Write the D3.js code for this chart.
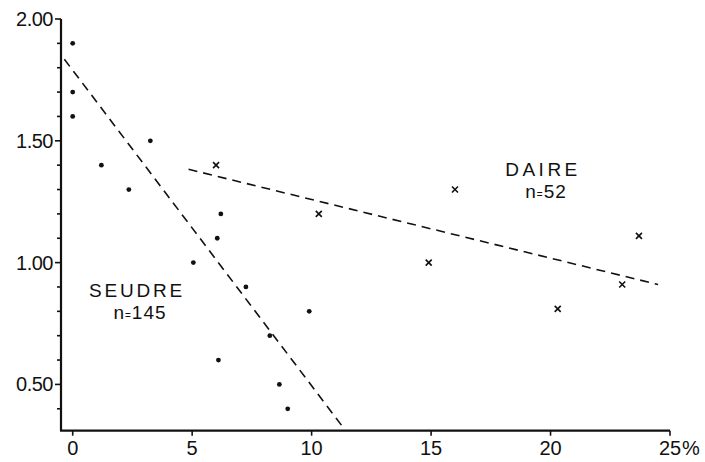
<!DOCTYPE html>
<html>
<head>
<meta charset="utf-8">
<script src="https://cdn.jsdelivr.net/npm/d3@7"></script>
<style>
  html, body { margin: 0; padding: 0; background: #fff; }
  svg text { font-family: "Liberation Sans", Arial, sans-serif; fill: #111; }
</style>
</head>
<body>
<svg id="chart" width="705" height="462"></svg>
<script>
// Seudre samples (dots): percentage on x, index on y
const seudreX = [0, 0, 0, 1.2, 2.35, 3.25, 5.05, 6.05, 6.2, 6.1, 7.25, 8.25, 8.65, 9.0, 9.9];
const seudreY = [1.90, 1.70, 1.60, 1.40, 1.30, 1.50, 1.00, 1.10, 1.20, 0.60, 0.90, 0.70, 0.50, 0.40, 0.80];

// Daire samples (crosses)
const daireX = [6.0, 10.3, 16.0, 14.9, 23.7, 23.0, 20.3];
const daireY = [1.40, 1.20, 1.30, 1.00, 1.11, 0.91, 0.81];

// Fitted trend lines, as [x, y] end points
const seudreFit = [[-0.35, 1.835], [11.3, 0.326]];
const daireFit = [[4.85, 1.383], [24.5, 0.910]];

// Axis ticks
const xTicks = [0, 5, 10, 15, 20, 25];
const yMajorTicks = [0.5, 1.0, 1.5, 2.0];
const yMinorTicks = [0.4, 0.6, 0.7, 0.8, 0.9, 1.1, 1.2, 1.3, 1.4, 1.6, 1.7, 1.8, 1.9];

const svg = d3.select("#chart");

const x = d3.scaleLinear().domain([0, 25]).range([72.7, 670]);
const y = d3.scaleLinear().domain([0.31, 2.0]).range([430.7, 19]);

const xLeft = x.invert(61);

// Axis lines
svg.append("line")
  .attr("x1", x(xLeft)).attr("x2", x(xLeft))
  .attr("y1", y(2.0)).attr("y2", y(0.31))
  .attr("stroke", "#111").attr("stroke-width", 2.2);
svg.append("line")
  .attr("x1", x(xLeft) - 1).attr("x2", x(25))
  .attr("y1", y(0.31)).attr("y2", y(0.31))
  .attr("stroke", "#111").attr("stroke-width", 2.2);

// x ticks and labels
const xAxisG = svg.append("g").attr("transform", `translate(0,${y(0.31)})`);
xAxisG.selectAll("line.tick").data(xTicks).join("line")
  .attr("class", "tick")
  .attr("x1", d => x(d)).attr("x2", d => x(d))
  .attr("y1", 0).attr("y2", 5)
  .attr("stroke", "#111").attr("stroke-width", 1.6);
xAxisG.selectAll("text.tl").data(xTicks).join("text")
  .attr("class", "tl")
  .attr("x", d => x(d)).attr("y", 24.5)
  .attr("text-anchor", "middle")
  .attr("font-size", 20)
  .text(d => d3.format("d")(d));
xAxisG.append("text")
  .attr("x", x(25) + 12).attr("y", 24.5)
  .attr("font-size", 20)
  .text("%");

// y ticks and labels
const yAxisG = svg.append("g").attr("transform", `translate(${x(xLeft)},0)`);
yAxisG.selectAll("line.major").data(yMajorTicks).join("line")
  .attr("class", "major")
  .attr("x1", -6).attr("x2", 0)
  .attr("y1", d => y(d)).attr("y2", d => y(d))
  .attr("stroke", "#111").attr("stroke-width", 1.6);
yAxisG.selectAll("line.minor").data(yMinorTicks).join("line")
  .attr("class", "minor")
  .attr("x1", -4).attr("x2", 0)
  .attr("y1", d => y(d)).attr("y2", d => y(d))
  .attr("stroke", "#111").attr("stroke-width", 1.6);
yAxisG.selectAll("text").data(yMajorTicks).join("text")
  .attr("x", -8).attr("y", d => y(d) + 7)
  .attr("text-anchor", "end")
  .attr("font-size", 20)
  .attr("letter-spacing", -0.5)
  .text(d => d3.format(".2f")(d));

// Trend lines
const line = d3.line().x(d => x(d[0])).y(d => y(d[1]));
[seudreFit, daireFit].forEach(pts => {
  svg.append("path")
    .attr("d", line(pts))
    .attr("fill", "none")
    .attr("stroke", "#111")
    .attr("stroke-width", 1.6)
    .attr("stroke-dasharray", "9,6");
});

// Seudre dots
svg.append("g").selectAll("circle")
  .data(seudreX.map((v, i) => [v, seudreY[i]]))
  .join("circle")
  .attr("cx", d => x(d[0])).attr("cy", d => y(d[1]))
  .attr("r", 2.4).attr("fill", "#111");

// Daire crosses
const cs = 3;
svg.append("g").selectAll("path")
  .data(daireX.map((v, i) => [v, daireY[i]]))
  .join("path")
  .attr("d", d => {
    const cx = x(d[0]), cy = y(d[1]);
    return `M${cx - cs},${cy - cs}L${cx + cs},${cy + cs}M${cx - cs},${cy + cs}L${cx + cs},${cy - cs}`;
  })
  .attr("stroke", "#111").attr("stroke-width", 1.6).attr("fill", "none");

// Group labels
function groupLabel(cx, by, name, nText, spacing) {
  svg.append("text")
    .attr("x", cx).attr("y", by)
    .attr("text-anchor", "middle")
    .attr("font-size", 19)
    .attr("letter-spacing", spacing)
    .text(name);
  const t = svg.append("text")
    .attr("x", cx + 3).attr("y", by + 22)
    .attr("text-anchor", "middle")
    .attr("font-size", 19)
    .attr("letter-spacing", 1);
  t.append("tspan").text("n");
  t.append("tspan").attr("font-size", 10).text("=");
  t.append("tspan").text(nText);
}
groupLabel(137, 297, "SEUDRE", "145", 2.8);
groupLabel(543, 176, "DAIRE", "52", 3.5);
</script>
</body>
</html>
